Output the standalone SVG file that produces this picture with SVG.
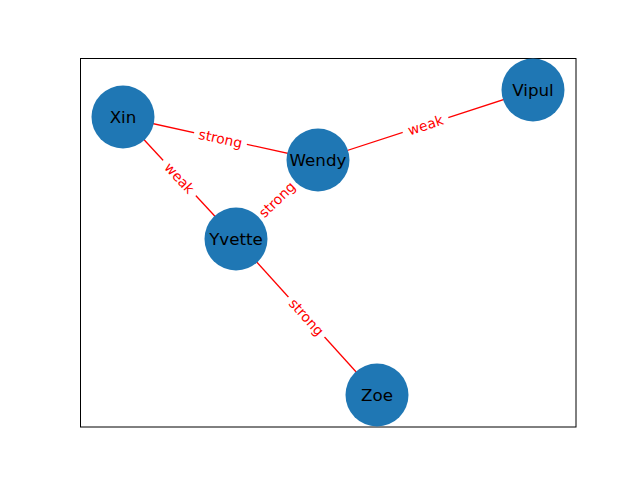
<svg xmlns="http://www.w3.org/2000/svg" width="640" height="480" viewBox="0 0 640 480">
<style>
.edge{stroke:#ff0000;stroke-width:1.3;fill:none}
.node{fill:#1f77b4}
.nl{font-family:"DejaVu Sans",sans-serif;font-size:16.7px;fill:#000;text-anchor:middle;dominant-baseline:central}
.el{font-family:"DejaVu Sans",sans-serif;font-size:13.9px;fill:#ff0000;text-anchor:middle;dominant-baseline:central}
.bg{fill:#fff}
</style>
<rect x="0" y="0" width="640" height="480" fill="#fff"/>
<rect x="80.5" y="58.5" width="495.5" height="368.5" fill="none" stroke="#000" stroke-width="1"/>
<g id="connectors">
<line class="edge" x1="123" y1="117" x2="318" y2="160"/>
<line class="edge" x1="318" y1="160" x2="533" y2="90"/>
<line class="edge" x1="123" y1="117" x2="236" y2="239"/>
<line class="edge" x1="236" y1="239" x2="318" y2="160"/>
<line class="edge" x1="236" y1="239" x2="377" y2="395"/>
<g transform="translate(220.5,138.5) rotate(12.4)"><rect class="bg" x="-27" y="-9" width="54" height="18"/><text class="el" x="0" y="0">strong</text></g>
<g transform="translate(425.5,125) rotate(-18)"><rect class="bg" x="-24" y="-9" width="48" height="18"/><text class="el" x="0" y="0">weak</text></g>
<g transform="translate(179.5,178) rotate(47)"><rect class="bg" x="-24" y="-9" width="48" height="18"/><text class="el" x="0" y="0">weak</text></g>
<g transform="translate(277,199.5) rotate(-44)"><rect class="bg" x="-27" y="-9" width="54" height="18"/><text class="el" x="0" y="0">strong</text></g>
<g transform="translate(306.5,317) rotate(48)"><rect class="bg" x="-27" y="-9" width="54" height="18"/><text class="el" x="0" y="0">strong</text></g>
</g>
<g id="node-xin"><circle class="node" cx="123" cy="117" r="31.5"/><text class="nl" x="123" y="117">Xin</text></g>
<g id="node-wendy"><circle class="node" cx="318" cy="160" r="31.5"/><text class="nl" x="318" y="160">Wendy</text></g>
<g id="node-vipul"><circle class="node" cx="533" cy="90" r="31.5"/><text class="nl" x="533" y="90">Vipul</text></g>
<g id="node-yvette"><circle class="node" cx="236" cy="239" r="31.5"/><text class="nl" x="236" y="239">Yvette</text></g>
<g id="node-zoe"><circle class="node" cx="377" cy="395" r="31.5"/><text class="nl" x="377" y="395">Zoe</text></g>
</svg>
